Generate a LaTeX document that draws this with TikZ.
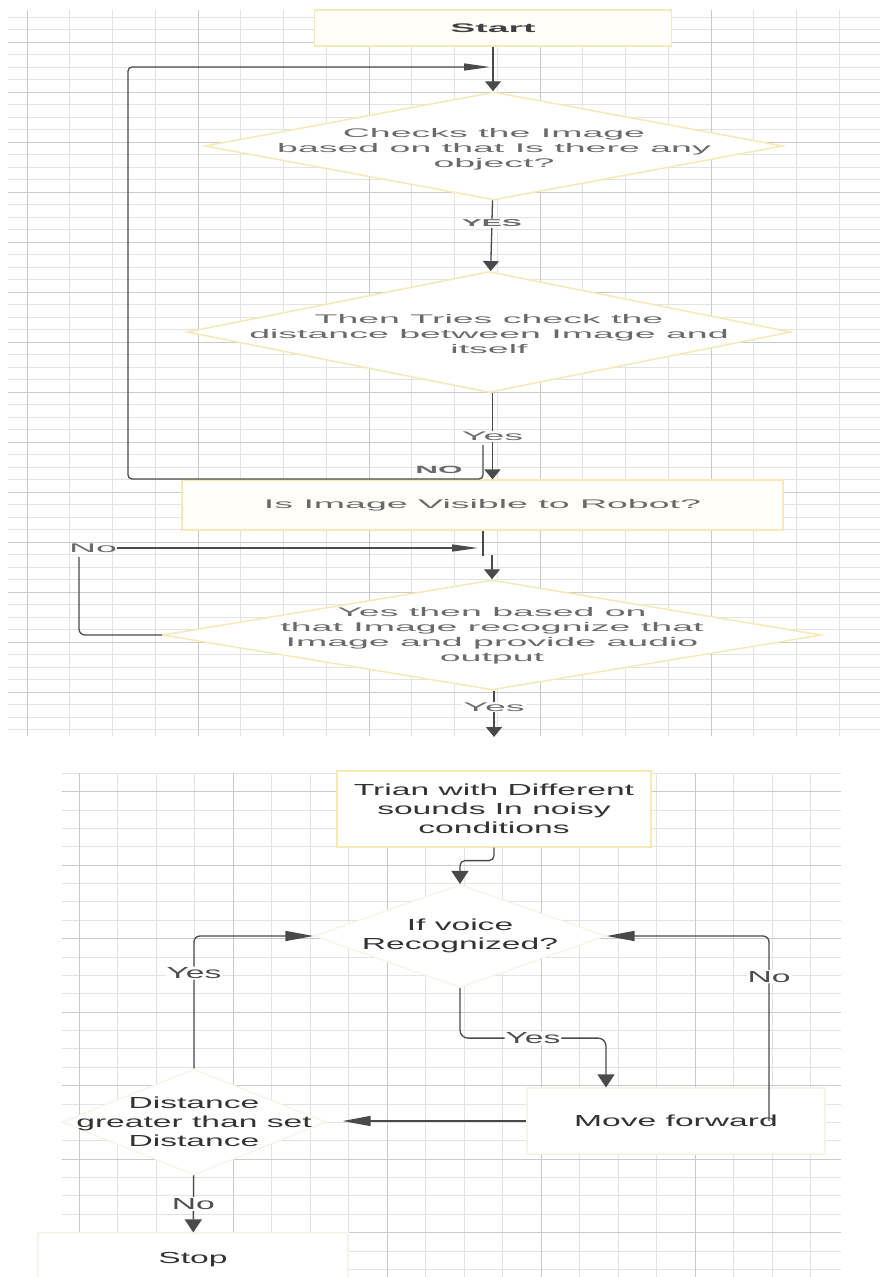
\documentclass[tikz,border=0pt]{standalone}
\usepackage{fontspec}
\setmainfont{Liberation Sans}
\newfontfamily\topfont[FakeStretch=3.0]{Liberation Sans}
\newfontfamily\botfont[FakeStretch=2.1]{Liberation Sans}
\usetikzlibrary{shapes.geometric}
\usetikzlibrary{arrows.meta}
\definecolor{ybord}{HTML}{F6E9B8}
\definecolor{yfill}{HTML}{FFFEF8}
\definecolor{fbord}{HTML}{F5F3EA}
\definecolor{lgray}{HTML}{4A4A4A}
\definecolor{tgray}{HTML}{6A6A6A}
\definecolor{dgray}{HTML}{333333}

\begin{document}
\begin{tikzpicture}[
x=1pt, y=-1pt,
gminor/.style={draw=black!11, line width=0.6pt},
gmajor/.style={draw=black!21, line width=0.8pt},
flow/.style={draw=lgray, line width=1.3pt},
vtip/.style={-{Triangle[length=10pt,width=16pt]}},
htip/.style={-{Triangle[length=26pt,width=7pt]}},
bvtip/.style={-{Triangle[length=13pt,width=17pt]}},
bhtip/.style={-{Triangle[length=28pt,width=10pt]}},
topbox/.style={rectangle, draw=ybord, fill=yfill, line width=1.2pt, inner sep=0pt},
topdia/.style={diamond, draw=ybord, fill=white, line width=1.5pt, inner sep=0pt},
toptxt/.style={font=\topfont\fontsize{12.5}{15}\selectfont, text=tgray, align=center, inner sep=0pt},
toplbl/.style={toptxt, fill=white, inner sep=1pt},
botbox/.style={rectangle, draw=fbord, fill=white, line width=1.2pt, inner sep=0pt},
botdia/.style={diamond, draw=fbord, fill=white, line width=1.2pt, inner sep=0pt},
bottxt/.style={font=\botfont\fontsize{16}{19}\selectfont, text=dgray, align=center, inner sep=0pt},
botlbl/.style={bottxt, text=black!70, fill=white, inner sep=1pt}
]

\fill[white] (0,0) rectangle (880,1277);
\useasboundingbox (0,0) rectangle (880,1277);

% grid, top sheet
\foreach \gy in {17,29.5,...,736} \draw[gminor] (8,\gy) -- (880,\gy);
\foreach \gx in {27,69.75,...,880} \draw[gminor] (\gx,10) -- (\gx,736);
\foreach \gy in {42,92,...,736} \draw[gmajor] (8,\gy) -- (880,\gy);
\foreach \gx in {27,198,...,880} \draw[gmajor] (\gx,10) -- (\gx,736);

% grid, bottom sheet
\foreach \gy in {773.125,791.5,...,1277} \draw[gminor] (62,\gy) -- (841,\gy);
\foreach \gx in {79,117.5,...,841} \draw[gminor] (\gx,773) -- (\gx,1277);
\foreach \gy in {791.5,865,...,1277} \draw[gmajor] (62,\gy) -- (841,\gy);
\foreach \gx in {79,233,...,841} \draw[gmajor] (\gx,773) -- (\gx,1277);

% top sheet
\node[topbox, toptxt, minimum width=357pt, minimum height=36pt, text=black!75] (start) at (493,28) {\bfseries Start};
\node[topdia, minimum width=578pt, minimum height=108pt,
  label={[toptxt, yshift=-3pt]center:{Checks the Image\\based on that Is there any\\object?}}] (chk) at (494,146) {};
\node[topdia, minimum width=604pt, minimum height=121pt,
  label={[toptxt, yshift=-2pt]center:{Then Tries check the\\distance between Image and\\itself}}] (dst) at (489,332) {};
\node[topbox, toptxt, minimum width=601pt, minimum height=50pt] (vis) at (482.5,505) {Is Image Visible to Robot?};
\node[topdia, minimum width=659pt, minimum height=110pt,
  label={[toptxt, yshift=-1pt]center:{Yes then based on\\that Image recognize that\\Image and provide audio\\output}}] (rec) at (492,635) {};

\coordinate (j1) at (490,67);
\coordinate (nofrom) at (483,445);
\coordinate (j2) at (478,548);
\coordinate (cut1) at (494,737);

% top edges
\draw[flow, vtip] (start) -- (start.south |- chk.north);
\draw[flow, vtip] (chk) -- node[toplbl, pos=.32, font=\topfont\fontsize{10}{12}\selectfont\bfseries] {YES} (dst);
\draw[flow, vtip] ([xshift=10pt]vis.north |- dst.south) -- node[toplbl] {Yes} ([xshift=10pt]vis.north);
\draw[flow, htip, rounded corners=4pt] (nofrom) -- (483,479) -- (128,479) -- (128,67) -- (j1);
\node[toptxt, font=\topfont\fontsize{10.5}{12}\selectfont\bfseries] (noT) at (439,470) {NO};

\draw[flow] ([xshift=0.5pt]vis.south) -- ++(0,25);
\draw[flow, vtip] ([yshift=24pt]rec.north) -- (rec.north);
\node[toptxt] (noL) at (93,548) {No};
\draw[flow, rounded corners=6pt] (rec.west) -| (79,557);
\draw[flow, htip] (noL) -- (j2);
\draw[flow, vtip] (rec.south -| cut1) -- node[toplbl, pos=.35] {Yes} (cut1);

% bottom sheet
\node[botbox, bottxt, draw=ybord, minimum width=314pt, minimum height=76pt] (trian) at (494,809) {Trian with Different\\sounds In noisy\\conditions};
\node[botdia, minimum width=292pt, minimum height=103pt,
  label={[bottxt]center:{If voice\\Recognized?}}] (voice) at (460,936) {};
\node[botbox, bottxt, minimum width=298pt, minimum height=66pt] (move) at (676,1121) {Move forward};
\node[botdia, minimum width=264pt, minimum height=106pt,
  label={[bottxt]center:{Distance\\greater than set\\Distance}}] (dist) at (194,1122) {};
\node[botbox, bottxt, minimum width=310pt, minimum height=54pt] (stop) at (193,1260) {Stop};

% bottom edges
\draw[flow, bvtip, rounded corners=5pt] (trian.south) -- ++(0,13) -| (voice.north);
\draw[flow, bhtip, rounded corners=6pt] (dist.north) |- node[botlbl, pos=.36] {Yes} (voice.west);
\draw[flow, bhtip, rounded corners=6pt] ([xshift=93pt]move.center) |- node[botlbl, pos=.39] {No} (voice.east);
\draw[flow, bvtip, rounded corners=8pt] (voice.south) -- ++(0,50) -- node[botlbl] {Yes} ++(146,0) -- ([xshift=-70pt]move.north);
\draw[flow, bhtip, shorten >=16pt] (move.west) -- (dist.east |- move.west);
\draw[flow, bvtip] (dist) -- node[botlbl] {No} (stop);

\end{tikzpicture}
\end{document}
